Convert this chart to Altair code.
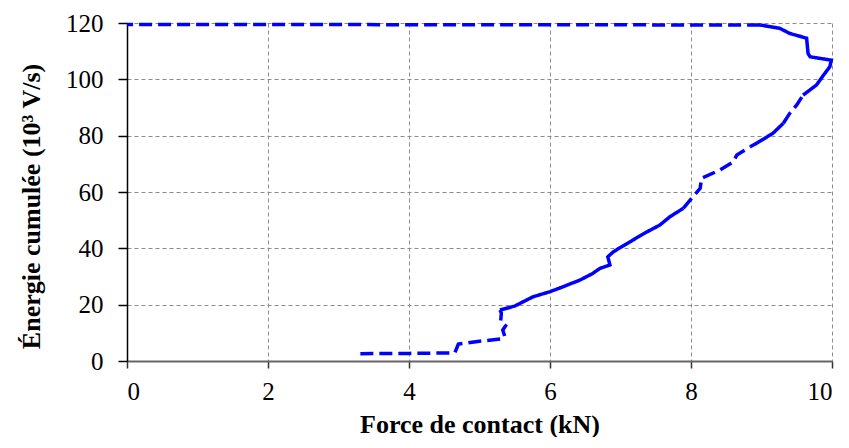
import altair as alt
import pandas as pd

force = [3.31, 4.00, 4.65, 4.70, 5.00, 5.30, 5.36, 5.33, 5.37, 5.30, 5.31, 5.29,
         5.50, 5.57, 5.76, 6.00, 6.20, 6.43, 6.60, 6.71, 6.85, 6.82, 6.90, 7.18,
         7.38, 7.56, 7.70, 7.89, 8.01, 8.13, 8.15, 8.41, 8.60, 8.65, 8.84, 8.93,
         9.16, 9.31, 9.40, 9.50, 9.59, 9.78, 9.88, 9.97, 9.99, 9.69, 9.66, 9.64,
         9.40, 9.26, 8.98, 0.00]
energy = [2.6, 2.7, 2.9, 6.0, 7.0, 7.8, 8.6, 11.0, 12.5, 14.0, 17.0, 18.1,
          19.5, 20.4, 22.8, 24.6, 26.5, 28.8, 31.0, 32.9, 34.1, 37.0, 38.8, 43.0,
          45.9, 48.3, 51.2, 54.2, 57.8, 61.3, 64.9, 67.8, 70.7, 73.1, 76.1, 77.3,
          80.8, 84.4, 87.9, 90.9, 94.4, 98.0, 101.5, 104.5, 106.8, 108.0, 109.2, 114.6,
          116.3, 118.1, 119.3, 119.5]

# stretches of the recorded trace: (appearance, first point, last point)
runs = [("dash", 0, 11), ("solid", 11, 27), ("dash", 27, 34), ("solid", 34, 37),
        ("dash", 37, 40), ("solid", 40, 50), ("dash", 50, 51)]

x_ticks = [0, 2, 4, 6, 8, 10]
y_ticks = [0, 20, 40, 60, 80, 100, 120]

rows = []
for k, (style, a, b) in enumerate(runs):
    for i in range(a, b + 1):
        rows.append({"force": force[i], "energy": energy[i], "idx": i,
                     "seg": k, "style": style})
df = pd.DataFrame(rows)

FONT = "Liberation Serif"

line = alt.Chart(df).mark_line(
    color="#0000ff", strokeWidth=3.5, clip=False, strokeCap="butt"
).encode(
    x=alt.X("force:Q", scale=alt.Scale(domain=[0, 10], nice=False),
            axis=alt.Axis(values=x_ticks, title="Force de contact (kN)",
                          grid=True, gridDash=[4, 3], gridColor="#8c8c8c", gridWidth=1,
                          domainColor="#666666", domainWidth=2,
                          tickColor="#333333", tickSize=7, tickWidth=1.5,
                          labelFont=FONT, labelFontSize=25, labelColor="#000000",
                          labelPadding=11,
                          titleFont=FONT, titleFontSize=26, titleFontWeight="bold",
                          titleColor="#000000", titleBaseline="alphabetic", titleY=71)),
    y=alt.Y("energy:Q", scale=alt.Scale(domain=[0, 120], nice=False),
            axis=alt.Axis(values=y_ticks, title="Énergie cumulée (10³ V/s)",
                          grid=True, gridDash=[4, 3], gridColor="#8c8c8c", gridWidth=1,
                          domainColor="#000000", domainWidth=1.5,
                          tickColor="#000000", tickSize=9, tickWidth=1.5,
                          labelFont=FONT, labelFontSize=25, labelColor="#000000",
                          labelPadding=15,
                          titleFont=FONT, titleFontSize=26, titleFontWeight="bold",
                          titleColor="#000000", titleBaseline="middle",
                          titleX=-96, titleY=183)),
    strokeDash=alt.StrokeDash("style:N",
                              scale=alt.Scale(domain=["dash", "solid"],
                                              range=[[13, 6], [1, 0]]),
                              legend=None),
    detail="seg:N",
    order="idx:Q",
)

chart = line.properties(
    width=705, height=338,
    autosize=alt.AutoSizeParams(type="none"),
    padding={"left": 119, "top": 15, "right": 9, "bottom": 76},
).configure_view(stroke=None)

chart.save("out.html", embed_options={"renderer": "svg", "actions": False})
